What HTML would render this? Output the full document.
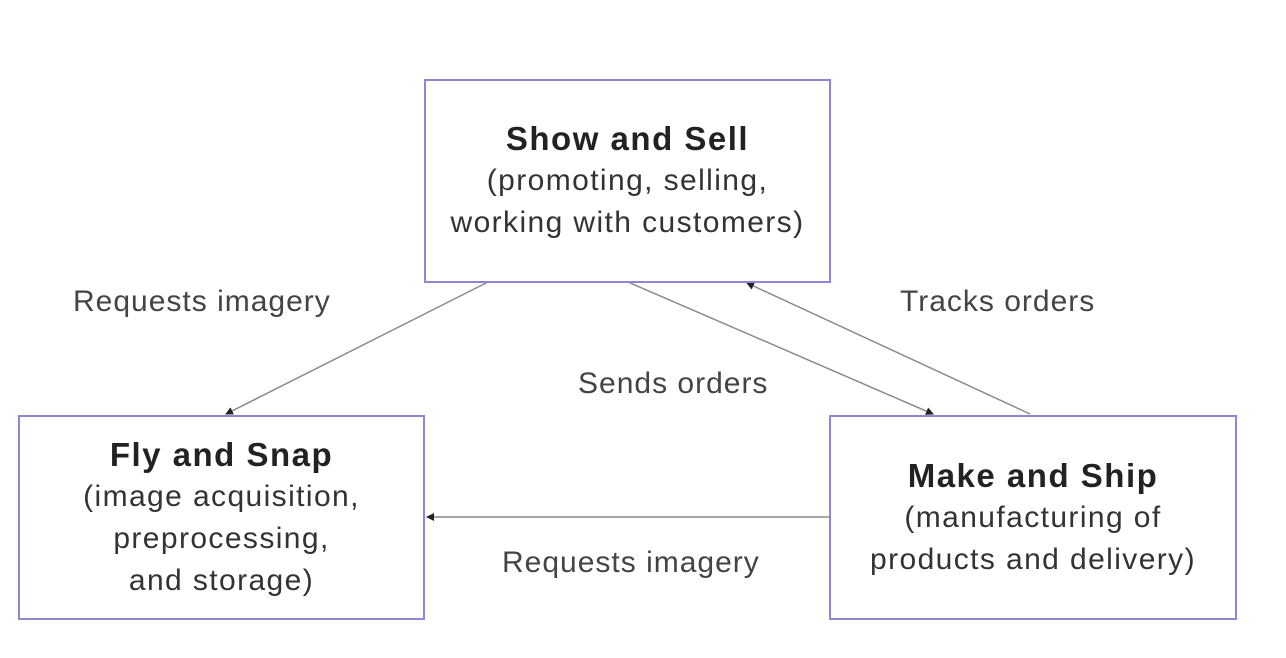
<!DOCTYPE html>
<html><head><meta charset="utf-8"><style>
html,body{margin:0;padding:0;background:#fff;}
body{width:1286px;height:658px;position:relative;overflow:hidden;font-family:"Liberation Sans",sans-serif;}
.box{position:absolute;border:2px solid #8f86d6;box-sizing:border-box;text-align:center;color:#222;display:flex;flex-direction:column;justify-content:center;}
.t{font-weight:bold;font-size:33px;line-height:42px;letter-spacing:1.5px;}
.s{font-size:30px;line-height:42px;color:#333;letter-spacing:1.4px;}
.lbl{position:absolute;font-size:30px;color:#444;white-space:nowrap;letter-spacing:1px;}
svg{position:absolute;left:0;top:0;}
</style></head><body>
<svg width="1286" height="658">
<defs><marker id="a" markerWidth="8" markerHeight="8" refX="7" refY="4" orient="auto" markerUnits="userSpaceOnUse"><path d="M0,0 L8,4 L0,8 z" fill="#222"/></marker></defs>
<g stroke="#8a8a8a" stroke-width="1.5" fill="none">
<line x1="488" y1="282" x2="226" y2="414" marker-end="url(#a)"/>
<line x1="628" y1="282" x2="933" y2="414" marker-end="url(#a)"/>
<line x1="1030" y1="414" x2="747" y2="283" marker-end="url(#a)"/>
<line x1="829" y1="517" x2="427" y2="517" marker-end="url(#a)"/>
</g></svg>
<div class="box" style="left:424px;top:79px;width:407px;height:204px;"><div class="t">Show and Sell</div><div class="s">(promoting, selling,<br>working with customers)</div></div>
<div class="box" style="left:18px;top:415px;width:407px;height:205px;"><div class="t">Fly and Snap</div><div class="s">(image acquisition,<br>preprocessing,<br>and storage)</div></div>
<div class="box" style="left:829px;top:415px;width:408px;height:205px;"><div class="t">Make and Ship</div><div class="s">(manufacturing of<br>products and delivery)</div></div>
<div class="lbl" style="left:73px;top:285px;">Requests imagery</div>
<div class="lbl" style="left:900px;top:285px;">Tracks orders</div>
<div class="lbl" style="left:578px;top:367px;">Sends orders</div>
<div class="lbl" style="left:502px;top:546px;">Requests imagery</div>
</body></html>
